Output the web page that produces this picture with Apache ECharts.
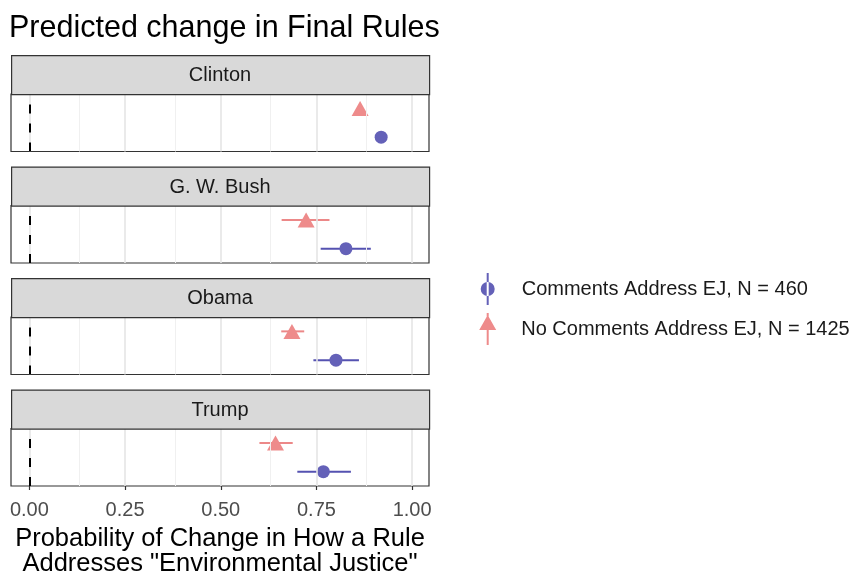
<!DOCTYPE html>
<html><head><meta charset="utf-8">
<script src="https://cdn.jsdelivr.net/npm/echarts@6/dist/echarts.min.js"></script>
<style>html,body{margin:0;padding:0;background:#fff}#c{width:858px;height:573px}</style>
</head><body><div id="c"></div>
<script>
// ---- data ----
const titleText = 'Predicted change in Final Rules';
const panels = ['Clinton', 'G. W. Bush', 'Obama', 'Trump'];
const groups = ['Comments Address EJ, N = 460', 'No Comments Address EJ, N = 1425'];
const yCats = ['Comments', 'No Comments'];
const commentsEst = [0.919, 0.827, 0.801, 0.768];
const commentsLo  = [0.913, 0.761, 0.742, 0.700];
const commentsHi  = [0.925, 0.892, 0.861, 0.840];
const noCommentsEst = [0.864, 0.723, 0.686, 0.643];
const noCommentsLo  = [0.858, 0.659, 0.658, 0.601];
const noCommentsHi  = [0.870, 0.784, 0.718, 0.688];
const xTicks = [0, 0.25, 0.5, 0.75, 1.0];
const xMinorTicks = [0.125, 0.375, 0.625, 0.875];
const refLineX = 0;
const xTitle = 'Probability of Change in How a Rule\nAddresses "Environmental Justice"';

// ---- style / layout ----
const FONT = '"Liberation Sans", Arial, Helvetica, sans-serif';
const blue = '#6461b8', blueLine = '#5552b1';
const red = '#ee8b8b', redLine = '#ec8888';
const gridLeft = 11, gridWidth = 418;
const gridTops = [94, 205.5, 317, 428.5];
const gridH = 57.5, stripH = 39;
const xMin = -0.048, xMax = 1.044;

const grids = [], xAxes = [], yAxes = [], series = [], graphics = [];
panels.forEach((p, i) => {
  const last = i === panels.length - 1;
  grids.push({left: gridLeft, top: gridTops[i], width: gridWidth, height: gridH,
    outerBoundsMode: 'none', containLabel: false,
    show: true, borderColor: '#333333', borderWidth: 1.2, backgroundColor: '#fff'});
  xAxes.push({type: 'value', gridIndex: i, min: xMin, max: xMax,
    axisLine: {show: false},
    splitLine: {show: false},
    axisTick: {show: last, customValues: xTicks, length: 4, lineStyle: {color: '#333', width: 1.2}},
    axisLabel: {show: last, customValues: xTicks, formatter: v => v.toFixed(2),
      fontSize: 20, color: '#4d4d4d', fontFamily: FONT, margin: 14},
    name: last ? xTitle : '', nameLocation: 'middle', nameGap: 40,
    nameTextStyle: {fontSize: 25.5, color: '#000', fontFamily: FONT, lineHeight: 25}
  });
  yAxes.push({type: 'category', gridIndex: i, data: yCats,
    axisLine: {show: false}, axisTick: {show: false}, axisLabel: {show: false}, splitLine: {show: false}});
  // grid lines
  series.push({type: 'line', xAxisIndex: i, yAxisIndex: i, data: [], silent: true, z: 1,
    markLine: {silent: true, symbol: ['none', 'none'], label: {show: false}, animation: false,
      data: xMinorTicks.map(v => ({xAxis: v, lineStyle: {color: '#f0f0f0', width: 1, type: 'solid'}}))
        .concat(xTicks.map(v => ({xAxis: v, lineStyle: {color: '#e5e5e5', width: 1.6, type: 'solid'}})))
    }});
  // reference dashed line
  series.push({type: 'line', xAxisIndex: i, yAxisIndex: i, data: [], silent: true, z: 2,
    markLine: {silent: true, symbol: ['none', 'none'], label: {show: false}, animation: false,
      data: [{xAxis: refLineX}],
      lineStyle: {color: '#000', width: 2, type: [9, 10], dashOffset: 0}}});
  // error bars
  const bars = [[commentsLo[i], commentsHi[i], yCats[0], blueLine], [noCommentsLo[i], noCommentsHi[i], yCats[1], redLine]];
  series.push({type: 'custom', xAxisIndex: i, yAxisIndex: i, z: 3, silent: true,
    data: bars.map(b => [b[0], b[1], b[2]]),
    encode: {x: [0, 1], y: 2},
    renderItem: (params, api) => {
      const a = api.coord([api.value(0), api.value(2)]);
      const b = api.coord([api.value(1), api.value(2)]);
      return {type: 'line', shape: {x1: a[0], y1: a[1], x2: b[0], y2: b[1]},
        style: {stroke: bars[params.dataIndex][3], lineWidth: 2}};
    }});
  series.push({type: 'scatter', name: groups[0], xAxisIndex: i, yAxisIndex: i, z: 4,
    symbol: 'circle', symbolSize: 13, itemStyle: {color: blue, opacity: 1},
    data: [[commentsEst[i], yCats[0]]]});
  series.push({type: 'scatter', name: groups[1], xAxisIndex: i, yAxisIndex: i, z: 4,
    symbol: 'triangle', symbolSize: [17, 15], itemStyle: {color: red, opacity: 1},
    data: [[noCommentsEst[i], yCats[1]]]});
  // strip
  graphics.push({type: 'rect', left: gridLeft, top: gridTops[i] - stripH, z: 10,
    shape: {width: gridWidth, height: stripH},
    style: {fill: '#d9d9d9', stroke: '#333333', lineWidth: 1.2}});
  graphics.push({type: 'text', x: gridLeft + gridWidth / 2, y: gridTops[i] - stripH / 2 + 1, z: 11,
    style: {text: p, fill: '#1a1a1a', font: '20px ' + FONT, textAlign: 'center', textVerticalAlign: 'middle'}});
});

const circleIcon = 'path://M6,0 h2 v32 h-2 Z M0,16 a7,7 0 1,0 14,0 a7,7 0 1,0 -14,0 Z';
const triIcon = 'path://M7.5,0 h2 v32 h-2 Z M8.5,2 L17,17 L0,17 Z';

const chart = echarts.init(document.getElementById('c'), null, {renderer: 'canvas'});
chart.setOption({
  animation: false,
  backgroundColor: '#fff',
  title: {text: titleText, left: 9, top: 13, padding: 0,
    textStyle: {fontSize: 30.5, fontWeight: 'normal', color: '#000', fontFamily: FONT}},
  grid: grids, xAxis: xAxes, yAxis: yAxes, series: series,
  legend: [
    {data: [{name: groups[0], icon: circleIcon}], left: 480.7, top: 273, padding: 0,
      itemWidth: 14, itemHeight: 32, selectedMode: false, orient: 'vertical',
      textStyle: {fontSize: 20, color: '#1a1a1a', fontFamily: FONT, padding: [0, 0, 0, 22]}},
    {data: [{name: groups[1], icon: triIcon}], left: 479.2, top: 313, padding: 0,
      itemWidth: 17, itemHeight: 32, selectedMode: false, orient: 'vertical',
      textStyle: {fontSize: 20, color: '#1a1a1a', fontFamily: FONT, padding: [0, 0, 0, 20]}}
  ],
  graphic: graphics
});
</script></body></html>
